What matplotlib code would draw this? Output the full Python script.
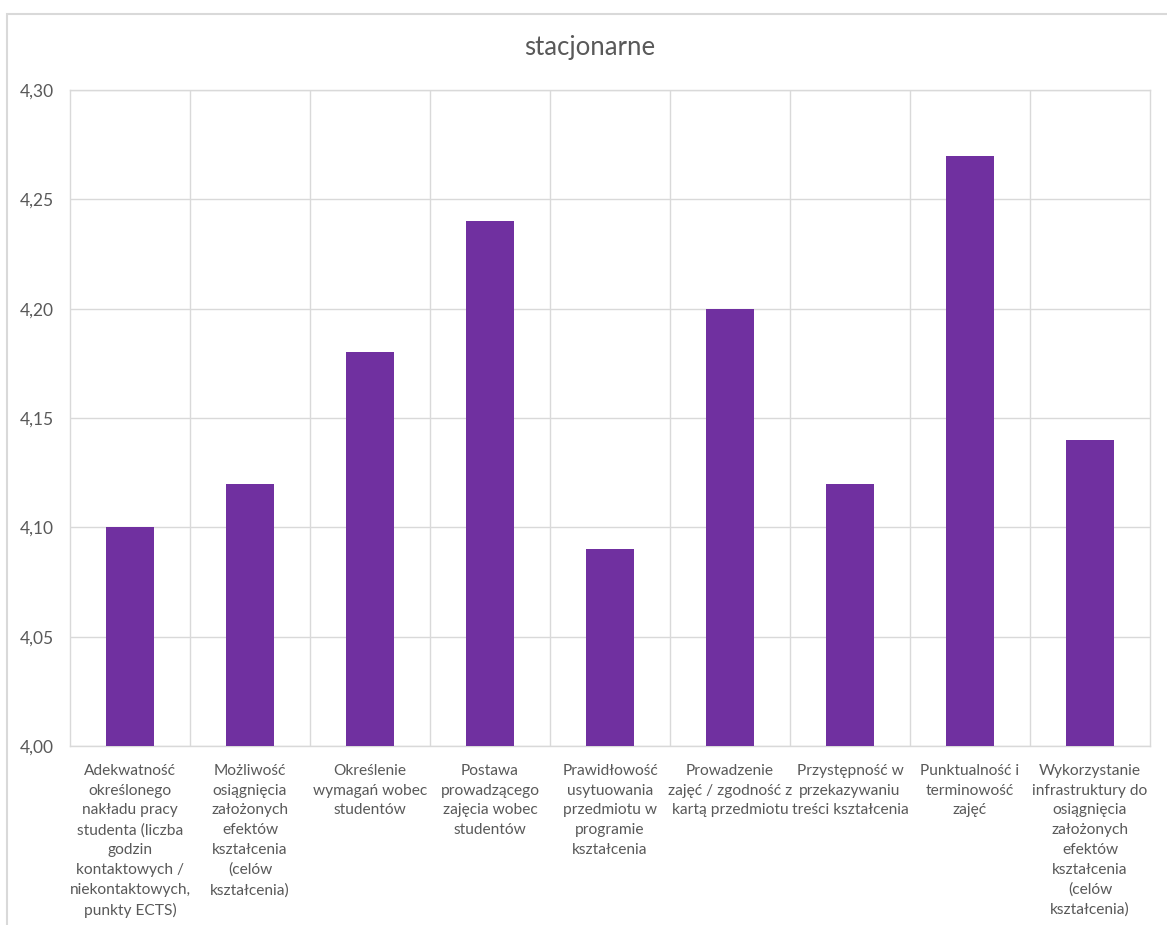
import matplotlib
matplotlib.use("Agg")
import matplotlib.pyplot as plt
from matplotlib.patches import Rectangle
import numpy as np

title = "stacjonarne"
categories = [
    "Adekwatność\nokreślonego\nnakładu pracy\nstudenta (liczba\ngodzin\nkontaktowych /\nniekontaktowych,\npunkty ECTS)",
    "Możliwość\nosiągnięcia\nzałożonych\nefektów\nkształcenia\n(celów\nkształcenia)",
    "Określenie\nwymagań wobec\nstudentów",
    "Postawa\nprowadzącego\nzajęcia wobec\nstudentów",
    "Prawidłowość\nusytuowania\nprzedmiotu w\nprogramie\nkształcenia",
    "Prowadzenie\nzajęć / zgodność z\nkartą przedmiotu",
    "Przystępność w\nprzekazywaniu\ntreści kształcenia",
    "Punktualność i\nterminowość\nzajęć",
    "Wykorzystanie\ninfrastruktury do\nosiągnięcia\nzałożonych\nefektów\nkształcenia\n(celów\nkształcenia)",
]
values = [4.10, 4.12, 4.18, 4.24, 4.09, 4.20, 4.12, 4.27, 4.14]
yticks = [4.00, 4.05, 4.10, 4.15, 4.20, 4.25, 4.30]
ytick_labels = ["4,00", "4,05", "4,10", "4,15", "4,20", "4,25", "4,30"]

plt.rcParams['font.family'] = ['Lato', 'DejaVu Sans']
W, H = 1167, 925
fig = plt.figure(figsize=(W / 100, H / 100), dpi=100)
fig.patch.set_facecolor("white")

grid_c = "#D9D9D9"
text_c = "#595959"

# outer chart border (only left/top visible)
fig.patches.append(Rectangle((7 / W, -0.1), 2.0, (1 - 14 / H) + 0.1,
                             transform=fig.transFigure, fill=False,
                             edgecolor=grid_c, linewidth=1.5))

left, right, top, bottom = 70, 1150, 90, 746
ax = fig.add_axes([left / W, 1 - bottom / H, (right - left) / W, (bottom - top) / H])

x = np.arange(len(categories))
ax.bar(x, np.array(values) - 4.0, bottom=4.0, width=0.4, color="#7030A0", zorder=3)

ax.set_xlim(-0.5, len(categories) - 0.5)
ax.set_ylim(4.0, 4.3)
ax.set_yticks(yticks)
ax.set_yticklabels(ytick_labels)
ax.set_xticks(x)
ax.set_xticklabels(categories, linespacing=1.52, va="top", ha="center")
ax.set_xticks(np.arange(0.5, len(categories) - 1, 1.0), minor=True)

ax.grid(axis="y", color=grid_c, linewidth=1, zorder=0)
ax.grid(axis="x", which="minor", color=grid_c, linewidth=1, zorder=0)
ax.grid(axis="x", which="major", visible=False)

for s in ax.spines.values():
    s.set_color(grid_c)
    s.set_linewidth(1)

ax.tick_params(axis="both", which="both", length=0, colors=text_c, labelsize=11.2)
ax.tick_params(axis="y", pad=11.5, labelsize=12.5)
ax.tick_params(axis="x", pad=13)

fig.text(0.5055, 1 - 48 / H, title, ha="center", va="center", fontsize=18.5, color=text_c)

fig.savefig("out.png", dpi=100, facecolor="white")
